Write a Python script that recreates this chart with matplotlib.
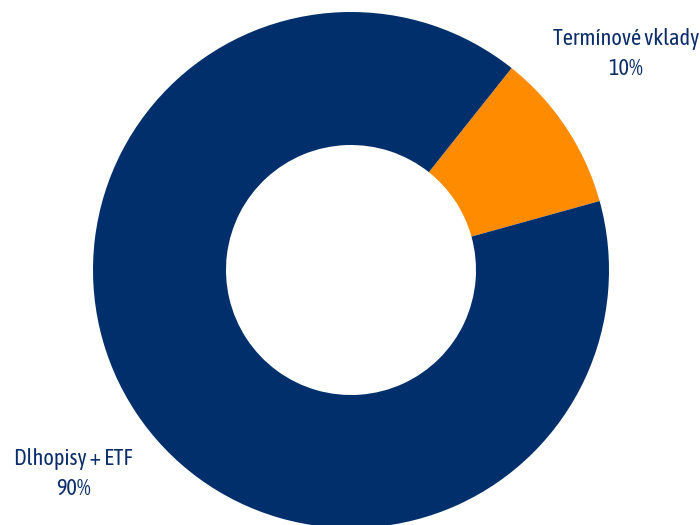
import matplotlib
matplotlib.use('Agg')
import matplotlib.pyplot as plt
from matplotlib import font_manager

# data
labels = ['Termínové vklady', 'Dlhopisy + ETF']
shares = [10, 90]
colors = ['#FF8C00', '#002F6C']

# pick a narrow face if one is installed
names = {f.name for f in font_manager.fontManager.ttflist}
family = 'Liberation Sans'
for cand in ['Asap Condensed', 'Archivo Narrow', 'Encode Sans Condensed']:
    if cand in names:
        family = cand
        break
plt.rcParams['font.family'] = [family, 'DejaVu Sans']

fig = plt.figure(figsize=(7, 5.25), dpi=100)
ax = fig.add_axes([0, 0, 1, 1])

ax.pie(shares, colors=colors, startangle=51.5, counterclock=False,
       center=(351, 255), radius=258,
       wedgeprops=dict(width=133, linewidth=0))
ax.set_aspect('equal')
ax.set_xlim(0, 700)
ax.set_ylim(0, 525)
ax.axis('off')

txt_color = '#0B2D6B'
ax.text(626, 471, f'{labels[0]}\n{shares[0]}%', ha='center', va='center',
        fontsize=16, color=txt_color, linespacing=1.5)
ax.text(73, 51, f'{labels[1]}\n{shares[1]}%', ha='center', va='center',
        fontsize=16, color=txt_color, linespacing=1.5)

fig.savefig('out.png', dpi=100)
